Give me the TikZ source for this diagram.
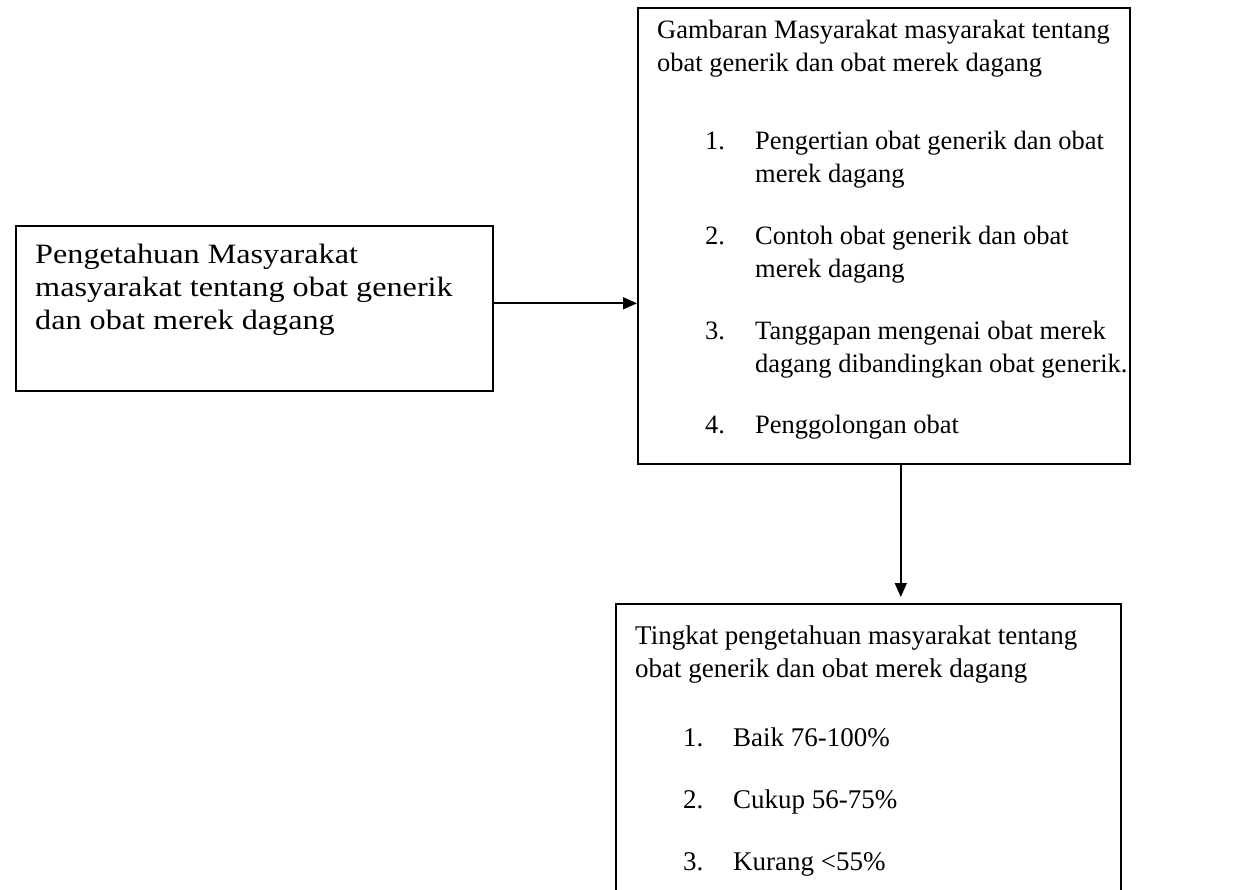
\documentclass[tikz,border=0pt]{standalone}
\usepackage{fontspec}
\setmainfont{Liberation Serif}
\newfontfamily\lebar[FakeStretch=1.15]{Liberation Serif}
\usetikzlibrary{arrows.meta,positioning}

\newcommand{\butir}[2]{\hspace*{48pt}\makebox[50pt][l]{#1}#2}
\newcommand{\lanjut}[1]{\hspace*{98pt}#1}

\begin{document}
\begin{tikzpicture}[
        x=1pt,y=-1pt,>=Triangle,
        flow/.style={-{Triangle[length=14pt,width=12pt]},line width=1.6pt},
        panel/.style={draw,rectangle,line width=1.6pt,anchor=north west,
          inner sep=0pt},
        isi/.style={anchor=north west,align=left,inner sep=0pt,
          font=\fontsize{27}{33}\selectfont}
      ]
        \useasboundingbox (0,0) rectangle (1247,890);

        \node[panel,minimum width=477pt,minimum height=165pt]
          (pengetahuan) at (15,225) {};
        \node[panel,minimum width=492pt,minimum height=456pt]
          (gambaran) at (637,7) {};
        \node[panel,minimum width=505pt,minimum height=300pt]
          (tingkat) at (615,603) {};

        \node[isi,font=\lebar\fontsize{28}{33}\selectfont]
          (pengetahuan-isi) at (35,244)
          {Pengetahuan Masyarakat\\
           masyarakat tentang obat generik\\
           dan obat merek dagang};
        \node[isi,font=\fontsize{26.5}{33}\selectfont] (gambaran-isi) at (657,20)
          {Gambaran Masyarakat masyarakat tentang\\
           obat generik dan obat merek dagang\\[45pt]
           \butir{1.}{Pengertian obat generik dan obat}\\
           \lanjut{merek dagang}\\[29pt]
           \butir{2.}{Contoh obat generik dan obat}\\
           \lanjut{merek dagang}\\[29pt]
           \butir{3.}{Tanggapan mengenai obat merek}\\
           \lanjut{dagang dibandingkan obat generik.}\\[28pt]
           \butir{4.}{Penggolongan obat}};
        \node[isi] (tingkat-isi) at (635,626)
          {Tingkat pengetahuan masyarakat tentang\\
           obat generik dan obat merek dagang\\[36pt]
           \butir{1.}{Baik 76-100\%}\\[29pt]
           \butir{2.}{Cukup 56-75\%}\\[29pt]
           \butir{3.}{Kurang <55\%}};

        \draw[flow] ([yshift=5pt]pengetahuan.east) -- ([yshift=5pt]gambaran.west |- pengetahuan.east);
        \draw[flow] ([xshift=17pt]gambaran.south) -- ([xshift=17pt,yshift=6pt]gambaran.south |- tingkat.north);
      \end{tikzpicture}
\end{document}
